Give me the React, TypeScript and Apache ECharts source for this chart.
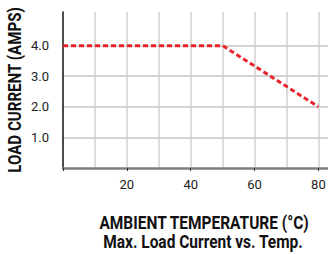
import React, { useEffect, useRef } from "react";
import * as echarts from "echarts";

const temps = [0, 50, 80];
const loadCurrent = [4.0, 4.0, 2.0];
const xTickLabels = [20, 40, 60, 80];
const yTickLabels = [1.0, 2.0, 3.0, 4.0];
const xTitle = "AMBIENT TEMPERATURE (°C)";
const yTitle = "LOAD CURRENT (AMPS)";
const chartTitle = "Max. Load Current vs. Temp.";

const FONT = "Roboto, 'Liberation Sans', sans-serif";

export default function App() {
  const ref = useRef<HTMLDivElement>(null);
  useEffect(() => {
    if (!ref.current) return;
    const chart = echarts.init(ref.current, undefined, { renderer: "svg" });
    const grid = "#d0d0d0";
    const titleFont = `bold 18px ${FONT}`;
    chart.setOption({
      animation: false,
      backgroundColor: "#ffffff",
      grid: { left: 63, right: 0, top: 12, bottom: 86, containLabel: false, outerBoundsMode: "none" },
      xAxis: [
        {
          type: "value",
          min: 0,
          max: 83,
          interval: 20,
          position: "bottom",
          axisLine: { show: true, lineStyle: { color: "#808080", width: 2.5 } },
          axisTick: { show: true, length: 3, lineStyle: { color: "#333", width: 1 } },
          axisLabel: {
            show: true,
            margin: 10,
            color: "#222",
            fontSize: 13,
            fontFamily: FONT,
            showMaxLabel: false,
            formatter: (v: number) => (xTickLabels.includes(v) ? String(v) : ""),
          },
          splitLine: { show: false },
        },
        {
          type: "value",
          min: 0,
          max: 83,
          interval: 10,
          position: "bottom",
          axisLine: { show: false },
          axisTick: { show: false },
          axisLabel: { show: false },
          splitLine: {
            show: true,
            lineStyle: {
              width: 1.5,
              color: ["transparent", grid, grid, grid, grid, grid, grid, grid, grid, "transparent"],
            },
          },
        },
      ],
      yAxis: {
        type: "value",
        min: 0,
        max: 5.1,
        interval: 1,
        axisLine: { show: true, lineStyle: { color: "#111", width: 1.5 } },
        axisTick: { show: false },
        axisLabel: {
          margin: 14,
          color: "#222",
          fontSize: 13,
          fontFamily: FONT,
          showMaxLabel: false,
          formatter: (v: number) => (yTickLabels.includes(v) ? v.toFixed(1) : ""),
        },
        splitLine: {
          show: true,
          lineStyle: {
            width: 1.5,
            color: ["transparent", "#c4c4c4", "#c4c4c4", "#c4c4c4", "#c4c4c4", "transparent", "transparent"],
          },
        },
      },
      graphic: [
        {
          type: "text",
          x: 15,
          y: 90,
          rotation: Math.PI / 2,
          scaleX: 0.84,
          style: {
            text: yTitle,
            fill: "#111",
            font: titleFont,
            textAlign: "center",
            textVerticalAlign: "middle",
          },
        },
        {
          type: "text",
          x: 204,
          y: 223,
          scaleX: 0.86,
          style: {
            text: xTitle,
            fill: "#111",
            font: titleFont,
            textAlign: "center",
            textVerticalAlign: "middle",
          },
        },
        {
          type: "text",
          x: 203,
          y: 242,
          scaleX: 0.86,
          style: {
            text: chartTitle,
            fill: "#111",
            font: titleFont,
            textAlign: "center",
            textVerticalAlign: "middle",
          },
        },
      ],
      series: [
        {
          type: "line",
          xAxisIndex: 0,
          data: temps.map((t, i) => [t, loadCurrent[i]]),
          showSymbol: false,
          symbol: "none",
          lineStyle: { color: "#e8232b", width: 3, type: [5, 3], cap: "butt" },
          z: 5,
        },
      ],
    });
    return () => chart.dispose();
  }, []);
  return (
    <div
      ref={ref}
      style={{ position: "absolute", left: 0, top: 0, width: 328, height: 254 }}
    />
  );
}
